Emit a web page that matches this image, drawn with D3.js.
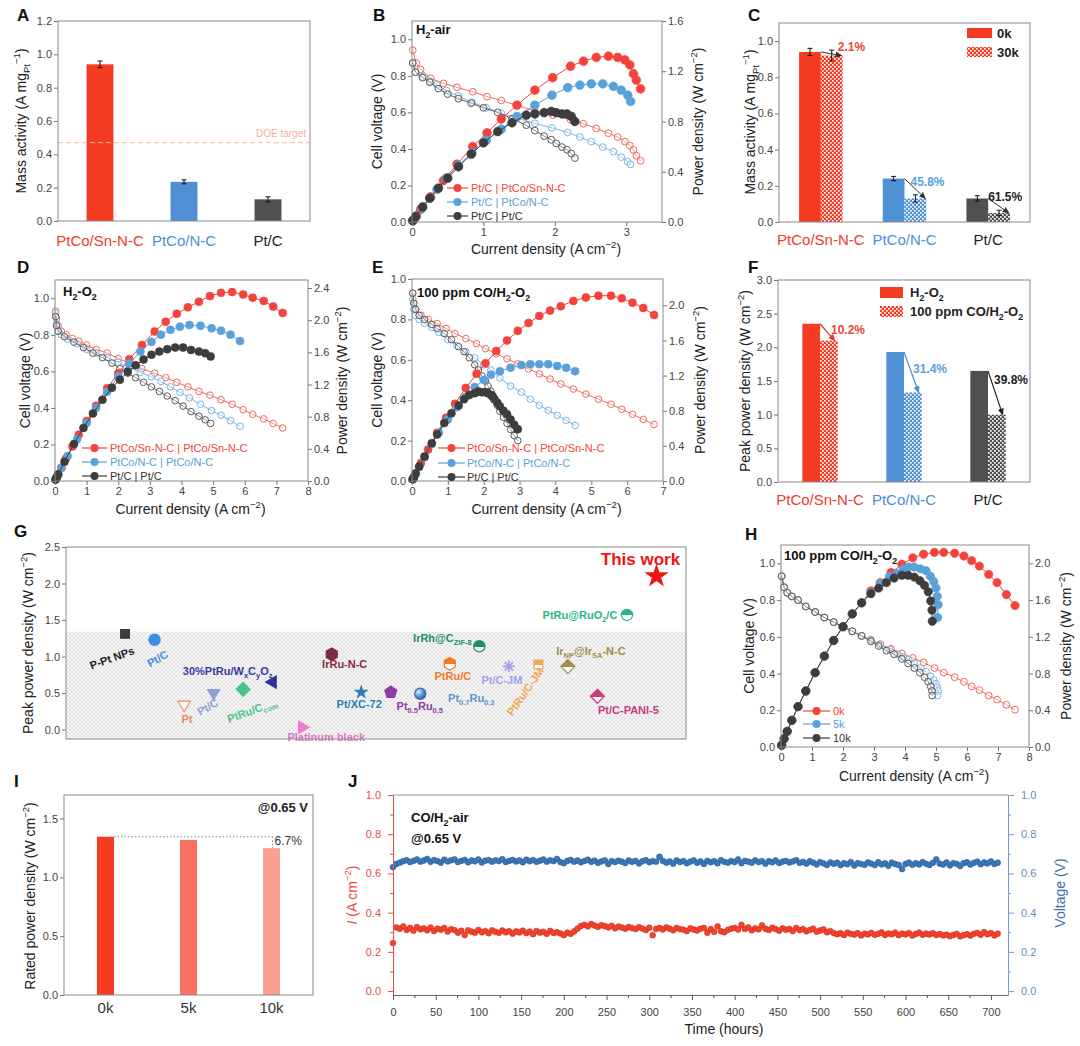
<!DOCTYPE html>
<html><head><meta charset="utf-8">
<script src="https://cdn.jsdelivr.net/npm/d3@7"></script>
<style>
body{margin:0;background:#fff}
svg{display:block}
text{font-family:"Liberation Sans",Arial,Helvetica,sans-serif}
</style>
</head><body>
<svg id="fig" width="1080" height="1046"></svg>
<script>
// ================= DATA =================
// A / C / F categories
const catNames = ["PtCo/Sn-N-C", "PtCo/N-C", "Pt/C"];
// A
const massAct = [0.94, 0.235, 0.13];
const massActErr = [0.02, 0.012, 0.015];
const doeTarget = 0.47;
// C
const massAct0k = [0.94, 0.24, 0.13];
const massAct0kErr = [0.02, 0.012, 0.015];
const massAct30k = [0.92, 0.13, 0.05];
const massAct30kErr = [0.03, 0.02, 0.015];
const massLossLabels = ["2.1%", "45.8%", "61.5%"];
// F
const peakH2O2 = [2.35, 1.93, 1.65];
const peakCO = [2.10, 1.33, 1.00];
const peakLossLabels = ["10.2%", "31.4%", "39.8%"];

// B  (H2-air)
const bCurSn = [0.01,0.06,0.12,0.26,0.44,0.63,0.85,1.05,1.25,1.47,1.72,1.97,2.22,2.4,2.58,2.75,2.88,2.98,3.05,3.1,3.14,3.2];
const bVoltSn = [0.94,0.87,0.835,0.786,0.759,0.737,0.713,0.686,0.665,0.638,0.608,0.585,0.56,0.538,0.512,0.486,0.465,0.44,0.418,0.395,0.363,0.335];
const bPowSn = [0.01,0.05,0.10,0.20,0.33,0.46,0.60,0.71,0.82,0.93,1.05,1.15,1.24,1.28,1.31,1.32,1.31,1.29,1.25,1.18,1.13,1.06];
const bCurNC = [0.01,0.05,0.14,0.25,0.35,0.48,0.65,0.84,1.04,1.25,1.47,1.72,1.96,2.18,2.35,2.51,2.67,2.82,2.93,3.02,3.06];
const bVoltNC = [0.87,0.82,0.795,0.77,0.75,0.72,0.69,0.655,0.625,0.595,0.57,0.54,0.515,0.49,0.465,0.44,0.41,0.385,0.355,0.33,0.315];
const bPowNC = [0.01,0.04,0.11,0.19,0.26,0.35,0.45,0.55,0.65,0.74,0.84,0.93,1.01,1.07,1.09,1.10,1.10,1.08,1.05,1.01,0.96];
const bCurPt = [0.01,0.05,0.15,0.25,0.37,0.5,0.65,0.83,1.0,1.2,1.4,1.6,1.72,1.85,1.95,2.02,2.1,2.17,2.23,2.28];
const bVoltPt = [0.87,0.82,0.79,0.765,0.73,0.70,0.675,0.65,0.625,0.60,0.565,0.53,0.50,0.47,0.45,0.43,0.41,0.395,0.375,0.35];
const bPowPt = [0.01,0.04,0.12,0.19,0.27,0.35,0.44,0.54,0.63,0.72,0.79,0.85,0.86,0.87,0.88,0.87,0.86,0.86,0.84,0.80];

// D  (H2-O2)
const dCurSn = [0.02,0.05,0.1,0.2,0.35,0.55,0.75,1.0,1.3,1.65,2.0,2.35,2.75,3.15,3.5,3.85,4.2,4.55,4.9,5.25,5.6,5.95,6.25,6.6,6.9,7.2];
const dVoltSn = [0.93,0.89,0.85,0.82,0.80,0.78,0.765,0.745,0.72,0.70,0.67,0.645,0.615,0.59,0.565,0.54,0.515,0.49,0.47,0.445,0.42,0.39,0.365,0.34,0.315,0.29];
const dPowSn = [0.02,0.045,0.085,0.165,0.28,0.43,0.575,0.745,0.935,1.155,1.34,1.515,1.69,1.86,1.98,2.08,2.16,2.23,2.30,2.34,2.35,2.32,2.28,2.24,2.17,2.09];
const dCurNC = [0.02,0.05,0.1,0.2,0.4,0.7,1.0,1.3,1.65,2.0,2.35,2.7,3.05,3.35,3.65,3.95,4.25,4.6,4.95,5.25,5.55,5.85];
const dVoltNC = [0.92,0.86,0.82,0.80,0.775,0.75,0.72,0.70,0.675,0.65,0.62,0.595,0.57,0.545,0.515,0.485,0.455,0.42,0.385,0.36,0.33,0.30];
const dPowNC = [0.02,0.045,0.08,0.16,0.31,0.52,0.72,0.91,1.11,1.30,1.46,1.61,1.73,1.82,1.88,1.92,1.94,1.93,1.90,1.87,1.82,1.74];
const dCurPt = [0.02,0.05,0.1,0.3,0.6,0.9,1.2,1.5,1.8,2.05,2.3,2.55,2.8,3.05,3.3,3.55,3.8,4.05,4.3,4.55,4.75,4.92];
const dVoltPt = [0.90,0.85,0.82,0.79,0.76,0.73,0.70,0.675,0.645,0.615,0.59,0.565,0.54,0.515,0.49,0.465,0.44,0.41,0.38,0.355,0.335,0.315];
const dPowPt = [0.02,0.04,0.08,0.24,0.46,0.66,0.84,1.01,1.16,1.26,1.36,1.44,1.51,1.57,1.61,1.64,1.66,1.66,1.63,1.61,1.59,1.55];

// E  (100 ppm CO/H2-O2)
const eCurSn = [0.02,0.05,0.1,0.25,0.45,0.7,0.95,1.2,1.5,1.8,2.05,2.35,2.65,2.95,3.25,3.55,3.85,4.15,4.5,4.85,5.2,5.55,5.85,6.15,6.45,6.75];
const eVoltSn = [0.93,0.88,0.85,0.82,0.80,0.78,0.755,0.73,0.705,0.68,0.655,0.63,0.605,0.58,0.555,0.53,0.505,0.48,0.455,0.43,0.405,0.38,0.355,0.33,0.305,0.28];
const ePowSn = [0.02,0.04,0.085,0.205,0.36,0.55,0.72,0.88,1.06,1.22,1.34,1.48,1.60,1.71,1.80,1.88,1.94,1.99,2.05,2.09,2.11,2.11,2.08,2.03,1.97,1.89];
const eCurNC = [0.02,0.05,0.1,0.2,0.35,0.55,0.75,1.0,1.25,1.5,1.75,2.0,2.2,2.45,2.75,3.05,3.3,3.55,3.8,4.05,4.3,4.55];
const eVoltNC = [0.90,0.85,0.82,0.80,0.78,0.76,0.735,0.70,0.67,0.64,0.61,0.575,0.55,0.51,0.47,0.44,0.405,0.375,0.35,0.325,0.30,0.275];
const ePowNC = [0.02,0.04,0.08,0.16,0.27,0.42,0.55,0.70,0.84,0.96,1.07,1.15,1.21,1.25,1.29,1.32,1.33,1.33,1.33,1.31,1.29,1.25];
const eCurPt = [0.02,0.05,0.1,0.2,0.35,0.55,0.7,0.9,1.1,1.3,1.45,1.6,1.75,1.85,1.95,2.05,2.12,2.2,2.25,2.3,2.38,2.45,2.55,2.65,2.75,2.85,2.95];
const eVoltPt = [0.93,0.88,0.85,0.82,0.80,0.775,0.755,0.73,0.70,0.665,0.64,0.61,0.575,0.55,0.52,0.495,0.47,0.445,0.425,0.405,0.375,0.345,0.315,0.285,0.255,0.225,0.20];
const ePowPt = [0.02,0.04,0.085,0.165,0.28,0.43,0.53,0.66,0.77,0.86,0.93,0.98,1.0,1.02,1.01,1.01,1.0,0.98,0.96,0.93,0.89,0.85,0.80,0.76,0.70,0.64,0.59];

// H  (durability, 100 ppm CO/H2-O2)
const hCur0k = [0.02,0.1,0.2,0.35,0.55,0.8,1.1,1.4,1.7,2.0,2.3,2.6,2.9,3.2,3.55,3.9,4.25,4.6,4.95,5.25,5.6,5.9,6.15,6.4,6.7,6.97,7.27,7.55];
const hVolt0k = [0.93,0.87,0.84,0.82,0.80,0.765,0.735,0.705,0.68,0.655,0.63,0.605,0.585,0.56,0.535,0.51,0.485,0.46,0.43,0.405,0.38,0.355,0.33,0.31,0.28,0.258,0.23,0.203];
const hPow0k = [0.02,0.09,0.17,0.29,0.44,0.61,0.81,0.99,1.16,1.31,1.45,1.57,1.70,1.79,1.90,1.99,2.06,2.10,2.12,2.12,2.11,2.08,2.03,1.97,1.88,1.79,1.66,1.54];
const hCur5k = [0.02,0.1,0.2,0.35,0.55,0.8,1.1,1.4,1.7,2.0,2.3,2.6,2.9,3.2,3.5,3.75,3.95,4.12,4.3,4.5,4.68,4.82,4.93,5.0,5.04,5.07,5.05];
const hVolt5k = [0.93,0.87,0.84,0.82,0.80,0.765,0.735,0.705,0.68,0.655,0.63,0.605,0.58,0.555,0.53,0.505,0.49,0.475,0.455,0.43,0.41,0.385,0.365,0.345,0.325,0.305,0.28];
const hPow5k = [0.02,0.09,0.17,0.29,0.44,0.61,0.81,0.99,1.16,1.31,1.45,1.57,1.68,1.78,1.86,1.89,1.94,1.96,1.96,1.94,1.92,1.86,1.80,1.73,1.64,1.55,1.41];
const hCur10k = [0.02,0.1,0.2,0.35,0.55,0.8,1.1,1.4,1.7,2.0,2.3,2.6,2.9,3.15,3.4,3.65,3.9,4.1,4.3,4.48,4.63,4.75,4.83,4.87,4.88];
const hVolt10k = [0.93,0.87,0.84,0.82,0.80,0.765,0.735,0.705,0.68,0.655,0.63,0.605,0.575,0.55,0.525,0.505,0.48,0.455,0.43,0.405,0.38,0.355,0.33,0.305,0.28];
const hPow10k = [0.02,0.09,0.17,0.29,0.44,0.61,0.81,0.99,1.16,1.31,1.45,1.57,1.67,1.73,1.79,1.84,1.87,1.87,1.85,1.81,1.76,1.69,1.59,1.49,1.37];

// G  (literature comparison)
const gLabels = ["P-Pt NPs","Pt/C","Pt","Pt/C","PtRu/C_{com}","30%PtRu/W_{x}C_{y}O_{z}","Platinum black","IrRu-N-C","Pt/XC-72","Pt_{0.5}Ru_{0.5}","Pt_{0.7}Ru_{0.3}","PtRu/C","IrRh@C_{ZIF-8}","Pt/C-JM","PtRu/C-JM","Ir_{NP}@Ir_{SA}-N-C","Pt/C-PANI-5","PtRu@RuO_{2}/C","This work"];
const gOrder = [2,3,4,5,6,7,8,9,10,11,12,13,14,15,16,17,18,19,20];
const gPower = [1.31,1.23,0.34,0.50,0.55,0.65,0.03,1.03,0.51,0.51,0.49,0.90,1.14,0.865,0.89,0.865,0.455,1.57,2.10];
const gShadeTop = 1.34;

// I
const ratedKeys = ["0k", "5k", "10k"];
const ratedPower = [1.345, 1.318, 1.248];
const ratedLossLabel = "6.7%";

// J (every 4 h)
const jTimeStep = 4;
const jVoltage = [
0.632,0.648,0.655,0.662,0.668,0.658,0.664,0.671,0.660,0.666,
0.674,0.659,0.668,0.663,0.655,0.670,0.661,0.667,0.672,0.658,
0.664,0.669,0.657,0.666,0.662,0.671,0.656,0.665,0.668,0.660,
0.667,0.663,0.673,0.658,0.664,0.669,0.661,0.666,0.657,0.670,
0.662,0.668,0.659,0.665,0.671,0.660,0.667,0.663,0.674,0.658,
0.652,0.664,0.669,0.660,0.666,0.657,0.663,0.670,0.659,0.665,
0.654,0.661,0.667,0.648,0.663,0.658,0.665,0.660,0.653,0.666,
0.659,0.664,0.651,0.662,0.668,0.657,0.663,0.660,0.685,0.664,
0.655,0.661,0.650,0.666,0.658,0.663,0.652,0.660,0.667,0.654,
0.661,0.648,0.664,0.657,0.662,0.652,0.668,0.659,0.655,0.663,
0.658,0.671,0.652,0.664,0.660,0.655,0.667,0.658,0.663,0.650,
0.662,0.657,0.666,0.653,0.660,0.664,0.656,0.661,0.668,0.654,
0.659,0.650,0.662,0.655,0.646,0.658,0.651,0.643,0.656,0.649,
0.655,0.642,0.652,0.647,0.658,0.640,0.653,0.648,0.644,0.656,
0.650,0.643,0.657,0.646,0.652,0.639,0.655,0.648,0.643,0.622,
0.648,0.655,0.644,0.652,0.646,0.658,0.649,0.643,0.654,0.672,
0.650,0.645,0.656,0.641,0.653,0.648,0.638,0.652,0.657,0.645,
0.654,0.660,0.647,0.656,0.651,0.661,0.648,0.655];
const jCurrent = [
0.245,0.325,0.318,0.330,0.312,0.322,0.308,0.326,0.315,0.320,
0.310,0.324,0.306,0.318,0.313,0.322,0.304,0.316,0.311,0.298,
0.308,0.286,0.310,0.303,0.298,0.312,0.300,0.306,0.295,0.310,
0.302,0.297,0.309,0.300,0.305,0.293,0.304,0.299,0.308,0.296,
0.303,0.290,0.306,0.298,0.302,0.292,0.307,0.296,0.300,0.294,
0.285,0.298,0.292,0.304,0.318,0.332,0.338,0.330,0.342,0.334,
0.328,0.336,0.331,0.325,0.333,0.320,0.329,0.324,0.318,0.327,
0.321,0.316,0.326,0.319,0.311,0.323,0.285,0.317,0.322,0.314,
0.325,0.318,0.310,0.322,0.316,0.313,0.306,0.320,0.314,0.309,
0.318,0.322,0.298,0.316,0.302,0.330,0.305,0.300,0.312,0.318,
0.322,0.314,0.338,0.317,0.325,0.310,0.320,0.315,0.335,0.318,
0.312,0.323,0.316,0.308,0.320,0.313,0.317,0.306,0.322,0.311,
0.316,0.305,0.312,0.318,0.303,0.309,0.314,0.300,0.306,0.296,
0.290,0.295,0.286,0.298,0.292,0.288,0.296,0.284,0.293,0.289,
0.297,0.287,0.292,0.299,0.286,0.294,0.290,0.298,0.285,0.293,
0.289,0.296,0.283,0.291,0.298,0.287,0.293,0.289,0.295,0.286,
0.291,0.284,0.288,0.280,0.286,0.292,0.279,0.285,0.290,0.283,
0.292,0.297,0.287,0.300,0.290,0.296,0.284,0.293];

// ================= STYLE =================
const RED = "#f4433a", RED_O = "#f2695e", BLUE = "#5aa0da", BLUE_O = "#78b5e4", DARK = "#3d3d3d", DARK_O = "#5a5a5a";
const barCols = ["#f53b22", "#4f90d4", "#505050"];
const catTextCols = ["#f03a2e", "#4a90d8", "#222222"];

const svg = d3.select("#fig");
const defs = svg.append("defs");

function rich(t, str, fs) {
  const parts = str.split(/(_\{[^}]*\}|\^\{[^}]*\})/).filter(s => s.length);
  let shift = 0;
  parts.forEach(p => {
    if (p[0] === "_" && p[1] === "{") {
      const s = fs * 0.28;
      t.append("tspan").attr("dy", s - shift).attr("font-size", fs * 0.68).text(p.slice(2, -1));
      shift = s;
    } else if (p[0] === "^" && p[1] === "{") {
      const s = -fs * 0.4;
      t.append("tspan").attr("dy", s - shift).attr("font-size", fs * 0.68).text(p.slice(2, -1));
      shift = s;
    } else {
      t.append("tspan").attr("dy", -shift).text(p);
      shift = 0;
    }
  });
}
function txt(g, x, y, str, o = {}) {
  const fs = o.fs || 11;
  const t = g.append("text").attr("x", x).attr("y", y).attr("font-size", fs)
    .attr("fill", o.fill || "#222").attr("text-anchor", o.anchor || "start");
  if (o.bold) t.attr("font-weight", "bold");
  if (o.rot) t.attr("transform", `rotate(${o.rot},${x},${y})`);
  rich(t, str, fs);
  return t;
}
function yLabel(g, cx, cy, str, o = {}) {
  const fs = o.fs || 14;
  return txt(g, cx + 0.36 * fs, cy, str, Object.assign({}, o, { fs, anchor: "middle", rot: -90 }));
}
function styleAxis(a, o = {}) {
  a.attr("font-family", null).attr("font-size", null);
  a.select(".domain").attr("stroke", o.domain || "none");
  a.selectAll(".tick line").attr("stroke", o.tick || "#777");
  a.selectAll(".tick text").attr("fill", o.text || "#444").attr("font-size", o.fs || 11);
  return a;
}
function frame(g, b, color) {
  g.append("rect").attr("x", b.x0).attr("y", b.y0).attr("width", b.x1 - b.x0).attr("height", b.y1 - b.y0)
    .attr("fill", "none").attr("stroke", color || "#8a8a8a").attr("stroke-width", 1);
}
function panelLetter(l, x, y) { txt(svg, x, y, l, { fs: 17, bold: true, fill: "#111" }); }
function checker(id, color) {
  const p = defs.append("pattern").attr("id", id).attr("width", 4).attr("height", 4).attr("patternUnits", "userSpaceOnUse");
  p.append("rect").attr("width", 4).attr("height", 4).attr("fill", color);
  p.append("rect").attr("width", 1.7).attr("height", 1.7).attr("fill", "#fff");
  p.append("rect").attr("x", 2).attr("y", 2).attr("width", 1.7).attr("height", 1.7).attr("fill", "#fff");
}
barCols.forEach((c, i) => checker("chk" + i, c));
function arrowMarker(id, color) {
  defs.append("marker").attr("id", id).attr("viewBox", "0 0 8 8").attr("refX", 7).attr("refY", 4)
    .attr("markerWidth", 7).attr("markerHeight", 7).attr("markerUnits", "userSpaceOnUse").attr("orient", "auto")
    .append("path").attr("d", "M0,0.5 L8,4 L0,7.5 Z").attr("fill", color);
}
arrowMarker("arrDark", "#333");
arrowMarker("arrRed", "#e8302a");
arrowMarker("arrBlue", "#4a8ad0");
arrowMarker("arrBlack", "#222");
function errBar(g, x, y, v, e) {
  g.append("line").attr("x1", x).attr("x2", x).attr("y1", y(v - e)).attr("y2", y(v + e)).attr("stroke", "#111");
  [v - e, v + e].forEach(w => g.append("line").attr("x1", x - 2.5).attr("x2", x + 2.5).attr("y1", y(w)).attr("y2", y(w)).attr("stroke", "#111"));
}

// ================= PANEL A =================
{
  const g = svg.append("g");
  const b = { x0: 58, x1: 310, y0: 21, y1: 221 };
  const x = d3.scaleBand().domain(catNames).range([b.x0, b.x1]).paddingInner(0.68).paddingOuter(0.34);
  const y = d3.scaleLinear().domain([0, 1.2]).range([b.y1, b.y0]);
  g.selectAll("rect.bar").data(massAct).join("rect").attr("class", "bar")
    .attr("x", (d, i) => x(catNames[i])).attr("width", x.bandwidth())
    .attr("y", d => y(d)).attr("height", d => b.y1 - y(d)).attr("fill", (d, i) => barCols[i]);
  massAct.forEach((v, i) => errBar(g, x(catNames[i]) + x.bandwidth() / 2, y, v, massActErr[i]));
  g.append("line").attr("x1", b.x0).attr("x2", b.x1).attr("y1", y(doeTarget)).attr("y2", y(doeTarget))
    .attr("stroke", "#f5b89c").attr("stroke-dasharray", "5,3").attr("stroke-width", 1);
  txt(g, b.x1 - 4, y(doeTarget) - 6, "DOE target", { fs: 10, fill: "#f3b293", anchor: "end" });
  frame(g, b);
  styleAxis(g.append("g").attr("transform", `translate(${b.x0},0)`)
    .call(d3.axisLeft(y).tickValues([0, 0.2, 0.4, 0.6, 0.8, 1.0, 1.2]).tickFormat(d3.format(".1f")).tickSize(4).tickPadding(2)));
  catNames.forEach((c, i) => txt(g, x(c) + x.bandwidth() / 2, 246, c, { fs: 15, fill: catTextCols[i], anchor: "middle" }));
  yLabel(g, 21, 121, "Mass activity (A mg_{Pt}^{−1})");
  panelLetter("A", 17, 21);
}

// ================= CURVE PANELS =================
function curvePanel(c) {
  const g = svg.append("g");
  const b = c.box;
  const x = d3.scaleLinear().domain(c.xDom).range([b.x0, b.x1]);
  const yL = d3.scaleLinear().domain(c.yLDom).range([b.y1, b.y0]);
  const yR = d3.scaleLinear().domain(c.yRDom).range([b.y1, b.y0]);
  c.series.forEach(s => {
    g.append("path").attr("d", d3.line().x((d, i) => x(s.cur[i])).y(d => yL(d))(s.volt))
      .attr("fill", "none").attr("stroke", s.open).attr("stroke-width", 1);
    g.append("g").selectAll("circle").data(s.volt).join("circle")
      .attr("cx", (d, i) => x(s.cur[i])).attr("cy", d => yL(d)).attr("r", c.rOpen)
      .attr("fill", "#fff").attr("fill-opacity", 0.35).attr("stroke", s.open).attr("stroke-width", 1);
  });
  c.series.forEach(s => {
    g.append("path").attr("d", d3.line().x((d, i) => x(s.cur[i])).y(d => yR(d))(s.pow))
      .attr("fill", "none").attr("stroke", s.color).attr("stroke-width", 1);
    g.append("g").selectAll("circle").data(s.pow).join("circle")
      .attr("cx", (d, i) => x(s.cur[i])).attr("cy", d => yR(d)).attr("r", c.rFill)
      .attr("fill", s.color).attr("stroke", s.color).attr("stroke-width", 0.6);
  });
  frame(g, b);
  styleAxis(g.append("g").attr("transform", `translate(0,${b.y1})`)
    .call(d3.axisBottom(x).tickValues(c.xTicks).tickFormat(d3.format("d")).tickSize(4).tickPadding(2)));
  styleAxis(g.append("g").attr("transform", `translate(${b.x0},0)`)
    .call(d3.axisLeft(yL).tickValues(c.yLTicks).tickFormat(d3.format(".1f")).tickSize(4).tickPadding(2)));
  styleAxis(g.append("g").attr("transform", `translate(${b.x1},0)`)
    .call(d3.axisRight(yR).tickValues(c.yRTicks).tickFormat(d3.format(".1f")).tickSize(4).tickPadding(2)));
  yLabel(g, c.yLx, (b.y0 + b.y1) / 2, "Cell voltage (V)");
  yLabel(g, c.yRx, (b.y0 + b.y1) / 2, "Power density (W cm^{−2})");
  txt(g, (b.x0 + b.x1) / 2 + 9, c.xLy, "Current density (A cm^{−2})", { fs: 14, anchor: "middle" });
  txt(g, b.x0 + c.titleDx, b.y0 + c.titleDy, c.title, { fs: 13, bold: true, fill: "#111" });
  c.series.forEach((s, i) => {
    const ly = c.legend.ys[i];
    g.append("line").attr("x1", c.legend.x1).attr("x2", c.legend.x2).attr("y1", ly).attr("y2", ly).attr("stroke", s.color).attr("stroke-width", 1.2);
    g.append("circle").attr("cx", (c.legend.x1 + c.legend.x2) / 2).attr("cy", ly).attr("r", 4).attr("fill", s.color);
    txt(g, c.legend.tx, ly + 4, s.name, { fs: 11, fill: s.text });
  });
}

curvePanel({
  box: { x0: 412, x1: 662, y0: 21, y1: 222 }, xDom: [0, 3.5], yLDom: [0, 1.1], yRDom: [0, 1.6],
  xTicks: [0, 1, 2, 3], yLTicks: [0, 0.2, 0.4, 0.6, 0.8, 1.0], yRTicks: [0, 0.4, 0.8, 1.2, 1.6],
  rOpen: 3.4, rFill: 4.4, yLx: 377, yRx: 698, xLy: 254, title: "H_{2}-air", titleDx: 4, titleDy: 13,
  legend: { x1: 447, x2: 468, tx: 471, ys: [188, 202, 216] },
  series: [
    { cur: bCurSn, volt: bVoltSn, pow: bPowSn, color: RED, open: RED_O, text: "#f0453a", name: "Pt/C | PtCo/Sn-N-C" },
    { cur: bCurNC, volt: bVoltNC, pow: bPowNC, color: BLUE, open: BLUE_O, text: "#5a9fd8", name: "Pt/C | PtCo/N-C" },
    { cur: bCurPt, volt: bVoltPt, pow: bPowPt, color: DARK, open: DARK_O, text: "#333", name: "Pt/C | Pt/C" }
  ]
});
panelLetter("B", 373, 21);

curvePanel({
  box: { x0: 55, x1: 308, y0: 280, y1: 481 }, xDom: [0, 8], yLDom: [0, 1.1], yRDom: [0, 2.5],
  xTicks: d3.range(0, 9), yLTicks: [0, 0.2, 0.4, 0.6, 0.8, 1.0], yRTicks: [0, 0.4, 0.8, 1.2, 1.6, 2.0, 2.4],
  rOpen: 3.3, rFill: 4.0, yLx: 25, yRx: 342, xLy: 514, title: "H_{2}-O_{2}", titleDx: 8, titleDy: 16,
  legend: { x1: 82, x2: 107, tx: 110, ys: [448, 462, 476] },
  series: [
    { cur: dCurSn, volt: dVoltSn, pow: dPowSn, color: RED, open: RED_O, text: "#f0453a", name: "PtCo/Sn-N-C | PtCo/Sn-N-C" },
    { cur: dCurNC, volt: dVoltNC, pow: dPowNC, color: BLUE, open: BLUE_O, text: "#5a9fd8", name: "PtCo/N-C | PtCo/N-C" },
    { cur: dCurPt, volt: dVoltPt, pow: dPowPt, color: DARK, open: DARK_O, text: "#333", name: "Pt/C | Pt/C" }
  ]
});
panelLetter("D", 17, 273);

curvePanel({
  box: { x0: 412, x1: 663, y0: 279, y1: 481 }, xDom: [0, 7], yLDom: [0, 1.0], yRDom: [0, 2.3],
  xTicks: d3.range(0, 8), yLTicks: [0, 0.2, 0.4, 0.6, 0.8, 1.0], yRTicks: [0, 0.4, 0.8, 1.2, 1.6, 2.0],
  rOpen: 3.3, rFill: 4.0, yLx: 377, yRx: 700, xLy: 514, title: "100 ppm CO/H_{2}-O_{2}", titleDx: 5, titleDy: 18,
  legend: { x1: 438, x2: 465, tx: 467, ys: [448, 463, 477] },
  series: [
    { cur: eCurSn, volt: eVoltSn, pow: ePowSn, color: RED, open: RED_O, text: "#f0453a", name: "PtCo/Sn-N-C | PtCo/Sn-N-C" },
    { cur: eCurNC, volt: eVoltNC, pow: ePowNC, color: BLUE, open: BLUE_O, text: "#5a9fd8", name: "PtCo/N-C | PtCo/N-C" },
    { cur: eCurPt, volt: eVoltPt, pow: ePowPt, color: DARK, open: DARK_O, text: "#333", name: "Pt/C | Pt/C" }
  ]
});
panelLetter("E", 372, 273);

curvePanel({
  box: { x0: 781, x1: 1029, y0: 545, y1: 747 }, xDom: [0, 8], yLDom: [0, 1.1], yRDom: [0, 2.2],
  xTicks: d3.range(0, 9), yLTicks: [0, 0.2, 0.4, 0.6, 0.8, 1.0], yRTicks: [0, 0.4, 0.8, 1.2, 1.6, 2.0],
  rOpen: 3.4, rFill: 4.2, yLx: 749, yRx: 1066, xLy: 781, title: "100 ppm CO/H_{2}-O_{2}", titleDx: 3, titleDy: 15,
  legend: { x1: 803, x2: 830, tx: 833, ys: [711, 724, 738] },
  series: [
    { cur: hCur0k, volt: hVolt0k, pow: hPow0k, color: RED, open: RED_O, text: "#f0453a", name: "0k" },
    { cur: hCur5k, volt: hVolt5k, pow: hPow5k, color: BLUE, open: BLUE_O, text: "#5a9fd8", name: "5k" },
    { cur: hCur10k, volt: hVolt10k, pow: hPow10k, color: DARK, open: DARK_O, text: "#333", name: "10k" }
  ]
});
panelLetter("H", 745, 540);

// ================= PANEL C =================
{
  const g = svg.append("g");
  const b = { x0: 779, x1: 1030, y0: 23, y1: 222 };
  const x0 = d3.scaleBand().domain(catNames).range([b.x0, b.x1]).paddingInner(0.48).paddingOuter(0.24);
  const x1 = d3.scaleBand().domain(["0k", "30k"]).range([0, x0.bandwidth()]);
  const y = d3.scaleLinear().domain([0, 1.1]).range([b.y1, b.y0]);
  const pctOff = [[17, -1], [6, 7], [0, 3]];
  const pctCol = ["#f0453a", "#5a9fd8", "#222"];
  catNames.forEach((c, i) => {
    const gx = x0(c), bw = x1.bandwidth();
    const xa = gx + x1("0k"), xb = gx + x1("30k");
    g.append("rect").attr("x", xa).attr("width", bw).attr("y", y(massAct0k[i])).attr("height", b.y1 - y(massAct0k[i])).attr("fill", barCols[i]);
    g.append("rect").attr("x", xb).attr("width", bw).attr("y", y(massAct30k[i])).attr("height", b.y1 - y(massAct30k[i])).attr("fill", `url(#chk${i})`);
    errBar(g, xa + bw / 2, y, massAct0k[i], massAct0kErr[i]);
    errBar(g, xb + bw / 2, y, massAct30k[i], massAct30kErr[i]);
    g.append("line").attr("x1", xa + bw).attr("y1", y(massAct0k[i])).attr("x2", xb + bw - 1).attr("y2", y(massAct30k[i]))
      .attr("stroke", "#333").attr("stroke-width", 1).attr("marker-end", "url(#arrDark)");
    txt(g, xb + pctOff[i][0], y(massAct0k[i]) + pctOff[i][1], massLossLabels[i], { fs: 12, bold: true, fill: pctCol[i] });
  });
  frame(g, b);
  styleAxis(g.append("g").attr("transform", `translate(${b.x0},0)`)
    .call(d3.axisLeft(y).tickValues([0, 0.2, 0.4, 0.6, 0.8, 1.0]).tickFormat(d3.format(".1f")).tickSize(4).tickPadding(2)));
  catNames.forEach((c, i) => txt(g, x0(c) + x0.bandwidth() / 2, 245, c, { fs: 15, fill: catTextCols[i], anchor: "middle" }));
  yLabel(g, 750, 122, "Mass activity (A mg_{Pt}^{−1})");
  g.append("rect").attr("x", 967).attr("y", 28).attr("width", 25).attr("height", 10).attr("fill", barCols[0]);
  g.append("rect").attr("x", 967).attr("y", 47).attr("width", 25).attr("height", 10).attr("fill", "url(#chk0)");
  txt(g, 997, 38, "0k", { fs: 13, bold: true });
  txt(g, 997, 57, "30k", { fs: 13, bold: true });
  panelLetter("C", 748, 21);
}

// ================= PANEL F =================
{
  const g = svg.append("g");
  const b = { x0: 778, x1: 1030, y0: 280, y1: 482 };
  const x0 = d3.scaleBand().domain(catNames).range([b.x0, b.x1]).paddingInner(0.58).paddingOuter(0.29);
  const x1 = d3.scaleBand().domain(["H2O2", "CO"]).range([0, x0.bandwidth()]);
  const y = d3.scaleLinear().domain([0, 3.0]).range([b.y1, b.y0]);
  const arrIds = ["arrRed", "arrBlue", "arrBlack"];
  const arrCols = ["#e8302a", "#4a8ad0", "#222"];
  const pctOff = [[11, 10], [9, 21], [6, 13]];
  const pctCol = ["#f0453a", "#5a9fd8", "#222"];
  catNames.forEach((c, i) => {
    const gx = x0(c), bw = x1.bandwidth();
    const xa = gx + x1("H2O2"), xb = gx + x1("CO");
    g.append("rect").attr("x", xa).attr("width", bw).attr("y", y(peakH2O2[i])).attr("height", b.y1 - y(peakH2O2[i])).attr("fill", barCols[i]);
    g.append("rect").attr("x", xb).attr("width", bw).attr("y", y(peakCO[i])).attr("height", b.y1 - y(peakCO[i])).attr("fill", `url(#chk${i})`);
    g.append("line").attr("x1", xa + bw).attr("y1", y(peakH2O2[i])).attr("x2", xb + bw - 3).attr("y2", y(peakCO[i]))
      .attr("stroke", arrCols[i]).attr("stroke-width", 1.2).attr("marker-end", `url(#${arrIds[i]})`);
    txt(g, xb + pctOff[i][0], y(peakH2O2[i]) + pctOff[i][1], peakLossLabels[i], { fs: 12, bold: true, fill: pctCol[i] });
  });
  frame(g, b);
  styleAxis(g.append("g").attr("transform", `translate(${b.x0},0)`)
    .call(d3.axisLeft(y).tickValues([0, 0.5, 1.0, 1.5, 2.0, 2.5, 3.0]).tickFormat(d3.format(".1f")).tickSize(4).tickPadding(2)));
  catNames.forEach((c, i) => txt(g, x0(c) + x0.bandwidth() / 2, 505, c, { fs: 15, fill: catTextCols[i], anchor: "middle" }));
  yLabel(g, 745, 381, "Peak power density (W cm^{−2})");
  g.append("rect").attr("x", 880).attr("y", 287).attr("width", 23).attr("height", 11).attr("fill", barCols[0]);
  g.append("rect").attr("x", 880).attr("y", 306).attr("width", 23).attr("height", 11).attr("fill", "url(#chk0)");
  txt(g, 910, 297, "H_{2}-O_{2}", { fs: 13, bold: true });
  txt(g, 910, 316, "100 ppm CO/H_{2}-O_{2}", { fs: 13, bold: true });
  panelLetter("F", 748, 273);
}

// ================= PANEL G =================
{
  const g = svg.append("g");
  const b = { x0: 66, x1: 686, y0: 547, y1: 739 };
  const x = d3.scaleLinear().domain([0, 21]).range([b.x0, b.x1]);
  const y = d3.scaleLinear().domain([-0.13, 2.5]).range([b.y1, b.y0]);
  const hp = defs.append("pattern").attr("id", "hatchG").attr("width", 4).attr("height", 4).attr("patternUnits", "userSpaceOnUse");
  hp.append("rect").attr("width", 4).attr("height", 4).attr("fill", "#f6f6f6");
  hp.append("path").attr("d", "M0,4 L4,0 M0,0 L4,4").attr("stroke", "#dcdcdc").attr("stroke-width", 0.7);
  g.append("rect").attr("x", b.x0).attr("width", b.x1 - b.x0).attr("y", y(gShadeTop)).attr("height", b.y1 - y(gShadeTop)).attr("fill", "url(#hatchG)");

  const gStyle = [
    { shape: "square", color: "#3c3c3c", fill: "solid", dx: -13, dy: 24, rot: -20, lc: "#222" },
    { shape: "circle", color: "#3d8fe0", fill: "solid", dx: 3, dy: 19, rot: -30 },
    { shape: "triDown", color: "#f08a5d", fill: "open", dx: 3, dy: 14, rot: 0 },
    { shape: "triDown", color: "#8f9fd6", fill: "solid", dx: -6, dy: 14, rot: -30 },
    { shape: "diamond", color: "#4cc38d", fill: "solid", dx: 9, dy: 21, rot: -20 },
    { shape: "triLeft", color: "#30309a", fill: "solid", dx: -45, dy: -11, rot: 0, lc: "#3a3aa0" },
    { shape: "triRight", color: "#f07ccd", fill: "solid", dx: 24, dy: 10, rot: 0, lc: "#e272c4" },
    { shape: "hex", color: "#7b2d3f", fill: "solid", dx: 13, dy: 10, rot: 0, lc: "#8a2a3a" },
    { shape: "star", color: "#2a7fb5", fill: "solid", dx: -2, dy: 12, rot: 0 },
    { shape: "pent", color: "#8d3ca6", fill: "solid", dx: 29, dy: 14, rot: 0 },
    { shape: "circle", color: "#5a95d8", fill: "sphere", dx: 51, dy: 4, rot: 0 },
    { shape: "hex", color: "#f27a22", fill: "half", dx: 3, dy: 12, rot: 0 },
    { shape: "circle", color: "#1e8f5f", fill: "half", dx: -37, dy: -8, rot: 0 },
    { shape: "asterisk", color: "#a79ef0", fill: "solid", dx: -7, dy: 14, rot: 0 },
    { shape: "square", color: "#f3a553", fill: "half", dx: -13, dy: 27, rot: -55 },
    { shape: "diamond", color: "#a38c52", fill: "half", dx: 23, dy: -15, rot: 0 },
    { shape: "diamond", color: "#c93d7f", fill: "half", dx: 31, dy: 14, rot: 0 },
    { shape: "circle", color: "#2bb585", fill: "half", dx: -47, dy: 0, rot: 0 },
    { shape: "bigstar", color: "#f01414", fill: "solid", dx: -16, dy: -17, rot: 0, fs: 17 }
  ];
  function poly(n, r, rot) {
    return "M" + d3.range(n).map(i => { const a = rot + i * 2 * Math.PI / n; return [r * Math.sin(a), -r * Math.cos(a)].map(v => v.toFixed(2)).join(","); }).join("L") + "Z";
  }
  const shapes = {
    square: poly(4, 6.2, Math.PI / 4), circle: d3.symbol(d3.symbolCircle, 100)(),
    triDown: poly(3, 7, Math.PI), triLeft: poly(3, 7, -Math.PI / 2), triRight: poly(3, 7, Math.PI / 2),
    diamond: poly(4, 7, 0), hex: poly(6, 6.3, 0), pent: poly(5, 6.3, 0),
    star: d3.symbol(d3.symbolStar, 40)(), bigstar: d3.symbol(d3.symbolStar, 130)(),
    asterisk: "M-6,0L6,0M0,-6L0,6M-4.2,-4.2L4.2,4.2M-4.2,4.2L4.2,-4.2"
  };
  const sph = defs.append("radialGradient").attr("id", "sphere").attr("cx", "35%").attr("cy", "35%").attr("r", "70%");
  sph.append("stop").attr("offset", "0%").attr("stop-color", "#e4efff");
  sph.append("stop").attr("offset", "55%").attr("stop-color", "#5a95d8");
  sph.append("stop").attr("offset", "100%").attr("stop-color", "#2c5f9e");
  gPower.forEach((v, i) => {
    const s = gStyle[i];
    const px = x(gOrder[i]), py = y(v);
    let fill = s.color, stroke = s.color;
    if (s.fill === "open") fill = "#fff";
    if (s.fill === "sphere") { fill = "url(#sphere)"; stroke = "#3a70b0"; }
    if (s.fill === "half") {
      const lg = defs.append("linearGradient").attr("id", "half" + i).attr("x1", 0).attr("y1", 0).attr("x2", 0).attr("y2", 1);
      lg.append("stop").attr("offset", "0.52").attr("stop-color", s.color);
      lg.append("stop").attr("offset", "0.52").attr("stop-color", "#fff");
      fill = `url(#half${i})`;
    }
    g.append("path").attr("d", shapes[s.shape]).attr("transform", `translate(${px},${py})`)
      .attr("fill", s.shape === "asterisk" ? "none" : fill).attr("stroke", stroke).attr("stroke-width", s.shape === "asterisk" ? 1.6 : 1.2);
    const fs = s.fs || 11;
    const lt = g.append("text").attr("x", 0).attr("y", 0.35 * fs).attr("font-size", fs).attr("font-weight", "bold")
      .attr("fill", s.lc || s.color).attr("text-anchor", "middle")
      .attr("transform", `translate(${px + s.dx},${py + s.dy}) rotate(${s.rot || 0})`);
    rich(lt, gLabels[i], fs);
  });
  frame(g, b);
  styleAxis(g.append("g").attr("transform", `translate(${b.x0},0)`)
    .call(d3.axisLeft(y).tickValues([0, 0.5, 1.0, 1.5, 2.0, 2.5]).tickFormat(d3.format(".1f")).tickSize(4).tickPadding(2)));
  yLabel(g, 28, 643, "Peak power density (W cm^{−2})");
  panelLetter("G", 14, 537);
}

// ================= PANEL I =================
{
  const g = svg.append("g");
  const b = { x0: 64, x1: 313, y0: 795, y1: 995 };
  const x = d3.scaleBand().domain(ratedKeys).range([b.x0, b.x1]).paddingInner(0.795).paddingOuter(0.3975);
  const y = d3.scaleLinear().domain([0, 1.7]).range([b.y1, b.y0]);
  const cols = ["#f53b22", "#f77060", "#f9a093"];
  g.selectAll("rect.bar").data(ratedPower).join("rect").attr("class", "bar")
    .attr("x", (d, i) => x(ratedKeys[i])).attr("width", x.bandwidth())
    .attr("y", d => y(d)).attr("height", d => b.y1 - y(d)).attr("fill", (d, i) => cols[i]);
  const xEnd = x(ratedKeys[2]) + x.bandwidth() / 2 + 1;
  g.append("line").attr("x1", x(ratedKeys[0]) + x.bandwidth()).attr("x2", xEnd)
    .attr("y1", y(ratedPower[0])).attr("y2", y(ratedPower[0])).attr("stroke", "#888").attr("stroke-dasharray", "1.5,2");
  g.append("line").attr("x1", xEnd).attr("x2", xEnd).attr("y1", y(ratedPower[0])).attr("y2", y(ratedPower[2]))
    .attr("stroke", "#888").attr("stroke-dasharray", "1.5,2");
  txt(g, xEnd + 2, y(ratedPower[2]) - 3, ratedLossLabel, { fs: 12, fill: "#333" });
  txt(g, b.x1 - 5, 812, "@0.65 V", { fs: 13, bold: true, anchor: "end", fill: "#222" });
  frame(g, b);
  styleAxis(g.append("g").attr("transform", `translate(${b.x0},0)`)
    .call(d3.axisLeft(y).tickValues([0, 0.5, 1.0, 1.5]).tickFormat(d3.format(".1f")).tickSize(4).tickPadding(2)));
  ratedKeys.forEach(k => txt(g, x(k) + x.bandwidth() / 2, 1013, k, { fs: 15, fill: "#333", anchor: "middle" }));
  yLabel(g, 30, 896, "Rated  power density (W cm^{−2})");
  panelLetter("I", 14, 787);
}

// ================= PANEL J =================
{
  const g = svg.append("g");
  const b = { x0: 393, x1: 1008, y0: 795, y1: 995 };
  const x = d3.scaleLinear().domain([0, 720]).range([b.x0, b.x1]);
  const yL = d3.scaleLinear().domain([-0.02, 1.0]).range([b.y1, b.y0]);
  const yR = d3.scaleLinear().domain([-0.02, 1.0]).range([b.y1, b.y0]);
  const LC = "#e84a44", RC = "#7b97c4";
  g.append("line").attr("x1", b.x0).attr("x2", b.x1).attr("y1", b.y0).attr("y2", b.y0).attr("stroke", "#999");
  g.append("g").selectAll("circle").data(jCurrent).join("circle")
    .attr("cx", (d, i) => x(i * jTimeStep)).attr("cy", d => yL(d)).attr("r", 2.9)
    .attr("fill", "#f2432f").attr("stroke", "#cf2a18").attr("stroke-width", 0.6);
  g.append("g").selectAll("circle").data(jVoltage).join("circle")
    .attr("cx", (d, i) => x(i * jTimeStep)).attr("cy", d => yR(d)).attr("r", 2.9)
    .attr("fill", "#3a78b8").attr("stroke", "#285c98").attr("stroke-width", 0.6);
  styleAxis(g.append("g").attr("transform", `translate(0,${b.y1})`)
    .call(d3.axisBottom(x).tickValues(d3.range(0, 701, 50)).tickSize(5).tickPadding(8).tickSizeOuter(0)), { domain: "#666", tick: "#555" });
  styleAxis(g.append("g").attr("transform", `translate(0,${b.y1})`)
    .call(d3.axisBottom(x).tickValues(d3.range(25, 701, 50)).tickSize(3).tickFormat("").tickSizeOuter(0)), { tick: "#555" });
  styleAxis(g.append("g").attr("transform", `translate(${b.x0},0)`)
    .call(d3.axisLeft(yL).tickValues([0, 0.2, 0.4, 0.6, 0.8, 1.0]).tickFormat(d3.format(".1f")).tickSize(5).tickPadding(7).tickSizeOuter(0)),
    { domain: LC, tick: LC, text: LC });
  styleAxis(g.append("g").attr("transform", `translate(${b.x0},0)`)
    .call(d3.axisLeft(yL).tickValues([0.1, 0.3, 0.5, 0.7, 0.9]).tickFormat("").tickSize(3).tickSizeOuter(0)), { tick: LC });
  styleAxis(g.append("g").attr("transform", `translate(${b.x1},0)`)
    .call(d3.axisRight(yR).tickValues([0, 0.2, 0.4, 0.6, 0.8, 1.0]).tickFormat(d3.format(".1f")).tickSize(6).tickPadding(7).tickSizeOuter(0)),
    { domain: RC, tick: RC, text: "#6a8ab8" });
  styleAxis(g.append("g").attr("transform", `translate(${b.x1},0)`)
    .call(d3.axisRight(yR).tickValues([0.1, 0.3, 0.5, 0.7, 0.9]).tickFormat("").tickSize(3).tickSizeOuter(0)), { tick: RC });
  txt(g, 724, 1034, "Time (hours)", { fs: 14, anchor: "middle", fill: "#222" });
  const il = g.append("text").attr("x", 352 + 5).attr("y", 895).attr("font-size", 14).attr("fill", LC).attr("text-anchor", "middle")
    .attr("transform", `rotate(-90,${352 + 5},895)`);
  il.append("tspan").attr("font-style", "italic").text("I");
  il.append("tspan").text(" (A cm");
  il.append("tspan").attr("dy", -5.6).attr("font-size", 9.5).text("−2");
  il.append("tspan").attr("dy", 5.6).text(")");
  yLabel(g, 1060, 893, "Voltage (V)", { fill: "#3a6fae" });
  txt(g, 411, 822, "CO/H_{2}-air", { fs: 13, bold: true, fill: "#111" });
  txt(g, 411, 843, "@0.65 V", { fs: 13, bold: true, fill: "#111" });
  panelLetter("J", 348, 787);
}
</script>
</body></html>
